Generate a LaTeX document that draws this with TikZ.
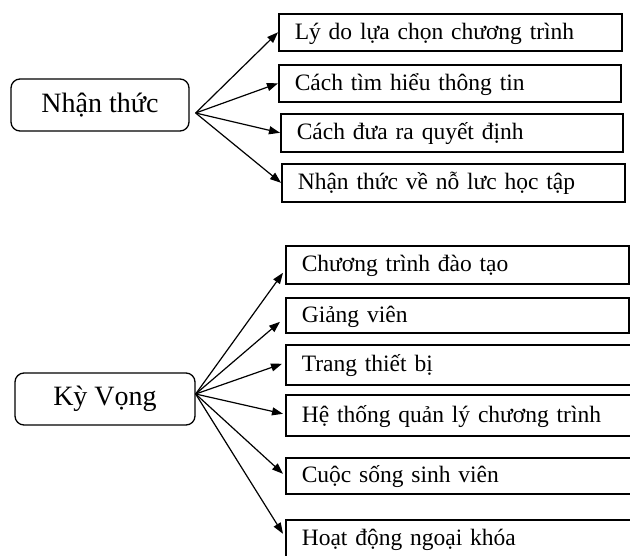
\documentclass[tikz,border=0pt]{standalone}
\usepackage{fontspec}
\setmainfont{Liberation Serif}
\usetikzlibrary{arrows.meta}
\tikzset{
  mainbox/.style={draw, line width=1.3pt, rounded corners=9pt, inner sep=0pt,
    font=\fontsize{28}{32}\selectfont},
  itembox/.style={draw, line width=1.6pt, anchor=north west, inner xsep=16pt, inner ysep=0pt,
    text height=19pt, text depth=5pt,
    align=left, font=\fontsize{23.5}{27}\selectfont},
  arr/.style={line width=1.2pt, -{Triangle[length=11pt,width=8pt]}}
}
\begin{document}
\begin{tikzpicture}[x=1pt,y=-1pt]
\clip (0,0) rectangle (630,555);
% top group
\node[mainbox, minimum width=178pt, minimum height=52pt] (n) at (100,105) {Nhận thức};
\node[itembox, minimum height=37pt, text width=311pt] (t1) at (278,13) {Lý do lựa chọn chương trình};
\node[itembox, minimum height=37pt, text width=310pt] (t2) at (278,64) {Cách tìm hiểu thông tin};
\node[itembox, minimum height=38pt, text width=310pt] (t3) at (280,113) {Cách đưa ra quyết định};
\node[itembox, minimum height=38pt, text width=311pt] (t4) at (281,163) {Nhận thức về nỗ lưc học tập};
\coordinate (ns) at ([xshift=6pt,yshift=-8pt]n.east);
\draw[arr] (ns) -- (t1.west);
\draw[arr] (ns) -- (t2.west);
\draw[arr] (ns) -- (t3.west);
\draw[arr] (ns) -- (t4.west);
% bottom group
\node[mainbox, minimum width=180pt, minimum height=52pt] (k) at (105,399) {Kỳ Vọng};
\node[itembox, minimum height=38pt, text width=311pt] (b1) at (285,245) {Chương trình đào tạo};
\node[itembox, minimum height=35pt, text width=311pt] (b2) at (285,297) {Giảng viên};
\node[itembox, minimum height=40pt, text width=340pt] (b3) at (285,344) {Trang thiết bị};
\node[itembox, minimum height=41pt, text width=340pt] (b4) at (285,394) {Hệ thống quản lý chương trình};
\node[itembox, minimum height=36pt, text width=340pt] (b5) at (285,457) {Cuộc sống sinh viên};
\node[itembox, minimum height=38pt, text width=340pt] (b6) at (285,519) {Hoạt động ngoại khóa};
\coordinate (ks) at ([yshift=5pt]k.east);
\draw[arr] (ks) -- ([xshift=-2pt,yshift=-8pt]b1.west);
\draw[arr] (ks) -- ([xshift=-5pt,yshift=-6.5pt]b2.west);
\draw[arr] (ks) -- ([xshift=-3pt,yshift=1pt]b3.west);
\draw[arr] (ks) -- ([xshift=-2pt,yshift=1.5pt]b4.west);
\draw[arr] (ks) -- ([xshift=-2pt,yshift=2pt]b5.west);
\draw[arr] (ks) -- ([xshift=-2pt,yshift=5pt]b6.west);
\end{tikzpicture}
\end{document}
